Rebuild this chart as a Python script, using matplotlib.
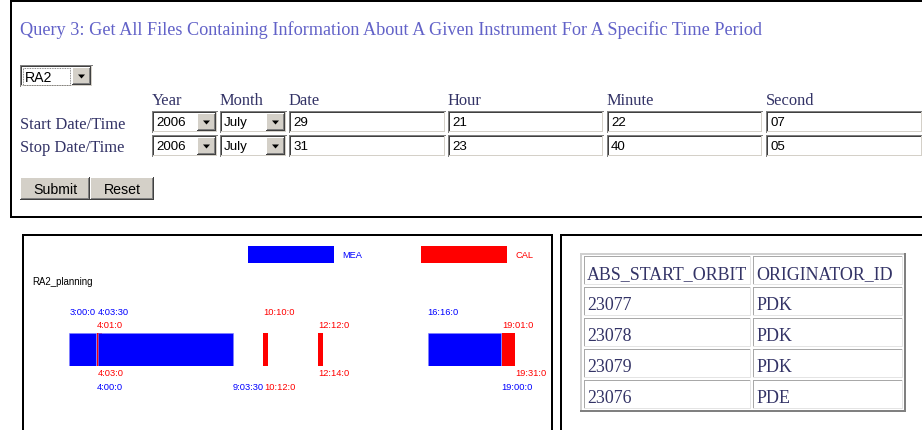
import matplotlib
matplotlib.use("Agg")
import matplotlib.pyplot as plt
from matplotlib.patches import Rectangle, Polygon

# ---------------- data ----------------
title = "Query 3: Get All Files Containing Information About A Given Instrument For A Specific Time Period"
instrument = "RA2"
field_labels = ["Year", "Month", "Date", "Hour", "Minute", "Second"]
row_labels = ["Start Date/Time", "Stop Date/Time"]
start_values = ["2006", "July", "29", "21", "22", "07"]
stop_values = ["2006", "July", "31", "23", "40", "05"]
buttons = ["Submit", "Reset"]

plan_name = "RA2_planning"
series_names = ["MEA", "CAL"]
mea_start = ["3:00:0", "4:03:30", "16:16:0"]
mea_end = ["4:00:0", "9:03:30", "19:00:0"]
cal_start = ["4:01:0", "10:10:0", "12:12:0", "19:01:0"]
cal_end = ["4:03:0", "10:12:0", "12:14:0", "19:31:0"]

table_columns = ["ABS_START_ORBIT", "ORIGINATOR_ID"]
abs_start_orbit = ["23077", "23078", "23079", "23076"]
originator_id = ["PDK", "PDK", "PDK", "PDE"]

# ---------------- style / layout ----------------
W, H, DPI = 922, 430, 100
SERIF = "Liberation Serif"
SANS = "Liberation Sans"
TITLE_C = "#6262c8"
LABEL_C = "#333366"
BLUE, RED = "#0000ff", "#ff0000"
FACE = "#d4d0c8"

fig = plt.figure(figsize=(W / DPI, H / DPI), dpi=DPI)
fig.patch.set_facecolor("white")
ui = fig.add_axes([0, 0, 1, 1])
ui.set_xlim(0, W)
ui.set_ylim(H, 0)
ui.axis("off")
renderer = fig.canvas.get_renderer()


def rect(x, y, w, h, fc, z=1):
    ui.add_patch(Rectangle((x, y), w, h, facecolor=fc, edgecolor="none", lw=0, zorder=z))


def sunken(x0, y0, x1, y1):
    rect(x0, y0, x1 - x0, y1 - y0, "white")
    rect(x0, y0, x1 - x0, 1, "#808080", 2)
    rect(x0, y0, 1, y1 - y0, "#808080", 2)
    rect(x0 + 1, y0 + 1, x1 - x0 - 2, 1, "#404040", 2)
    rect(x0 + 1, y0 + 1, 1, y1 - y0 - 2, "#404040", 2)
    rect(x0 + 1, y1 - 2, x1 - x0 - 2, 1, FACE, 2)
    rect(x1 - 2, y0 + 1, 1, y1 - y0 - 2, FACE, 2)


def raised(x0, y0, x1, y1, z=3):
    rect(x0, y0, x1 - x0, y1 - y0, FACE, z)
    rect(x0, y0, x1 - x0, 1, "#ffffff", z + 0.1)
    rect(x0, y0, 1, y1 - y0, "#ffffff", z + 0.1)
    rect(x0, y1 - 1, x1 - x0, 1, "#404040", z + 0.2)
    rect(x1 - 1, y0, 1, y1 - y0, "#404040", z + 0.2)
    rect(x0 + 1, y1 - 2, x1 - x0 - 2, 1, "#808080", z + 0.2)
    rect(x1 - 2, y0 + 1, 1, y1 - y0 - 2, "#808080", z + 0.2)


def arrow_button(x0, y0, x1, y1):
    raised(x0, y0, x1, y1)
    cx, cy = (x0 + x1) / 2, (y0 + y1) / 2
    ui.add_patch(Polygon([[cx - 3.5, cy - 1.5], [cx + 3.5, cy - 1.5], [cx, cy + 2.5]],
                         closed=True, facecolor="black", edgecolor="none", zorder=5))


def fit(t, target_px):
    bb = t.get_window_extent(renderer)
    t.set_fontsize(t.get_fontsize() * target_px / bb.width)
    return t.get_fontsize()


# ---------------- panel borders ----------------
rect(10, 0, W - 10, 2, "black", 6)
rect(10, 0, 2, 218, "black", 6)
rect(10, 216, W - 10, 2, "black", 6)
rect(22, 234, 531, 2, "black", 6)
rect(22, 234, 2, H - 234, "black", 6)
rect(551, 234, 2, H - 234, "black", 6)
rect(560, 234, W - 560, 2, "black", 6)
rect(560, 234, 2, H - 234, "black", 6)

# ---------------- query form ----------------
t = ui.text(20, 35, title, family=SERIF, fontsize=12, color=TITLE_C, ha="left", va="baseline")
fit(t, 740)

# instrument select
sunken(20, 65, 93, 87)
ui.text(25, 81.5, instrument, family=SANS, fontsize=10.2, color="black", ha="left", va="baseline", zorder=6)
ui.add_patch(Rectangle((22.5, 67.5), 47, 17, fill=False, edgecolor="#606060", lw=0.6,
                       linestyle=(0, (1, 1)), zorder=6))
arrow_button(72, 67, 91, 85)

col_left = [152, 220, 289, 448, 607, 766]
col_right = [218, 287, 446, 604, 763, 923]
lab = ui.text(20, 129, row_labels[0], family=SERIF, fontsize=13, color=LABEL_C, ha="left", va="baseline")
lab_fs = fit(lab, 105)
ui.text(20, 152, row_labels[1], family=SERIF, fontsize=lab_fs, color=LABEL_C, ha="left", va="baseline")
for x, name in zip(col_left, field_labels):
    ui.text(x, 105, name, family=SERIF, fontsize=lab_fs, color=LABEL_C, ha="left", va="baseline")

row_boxes = [(111, 133), (135, 157)]
for (y0, y1), vals in zip(row_boxes, [start_values, stop_values]):
    for i, (x0, x1, v) in enumerate(zip(col_left, col_right, vals)):
        sunken(x0, y0, x1, y1)
        ui.text(x0 + 4, y1 - 7, v, family=SANS, fontsize=9.6, color="black",
                ha="left", va="baseline", zorder=6)
        if i < 2:
            arrow_button(x1 - 21, y0 + 2, x1 - 2, y1 - 2)

btn_x = [(20, 90), (90, 154)]
for (x0, x1), b in zip(btn_x, buttons):
    raised(x0, 177, x1, 200)
    ui.text((x0 + x1) / 2, 193.5, b, family=SANS, fontsize=10.2, color="black",
            ha="center", va="baseline", zorder=6)

# ---------------- timeline chart ----------------
def to_hours(s):
    h, m, sec = (float(p) for p in s.split(":"))
    return h + m / 60 + sec / 3600


ms = [to_hours(s) for s in mea_start]
me = [to_hours(s) for s in mea_end]
cs = [to_hours(s) for s in cal_start]
ce = [to_hours(s) for s in cal_end]

bar_left, bar_right, bar_top, bar_bot = 69.3, 515.4, 333.3, 366.0
ax = fig.add_axes([bar_left / W, 1 - bar_bot / H, (bar_right - bar_left) / W, (bar_bot - bar_top) / H])
xmin, xmax = min(ms + cs), max(me + ce)
ax.set_xlim(xmin, xmax)
ax.set_ylim(0, 1)
ax.axis("off")

px_per_h = ax.bbox.width / (xmax - xmin)
min_w = 5 / px_per_h
ax.broken_barh([(s, max(e - s, min_w)) for s, e in zip(cs, ce)], (0, 1),
               facecolors=RED, edgecolor="none", zorder=2)
ax.broken_barh([(s, e - s) for s, e in zip(ms, me)], (0, 1),
               facecolors=BLUE, edgecolor="#8080ff", linewidth=0.4, zorder=3)

PX = 72 / DPI
row_anchor = {1: (1, 20.6), 2: (1, 7.6), 3: (0, -7.0), 4: (0, -21.0)}
cal_start_rows = [2, 1, 2, 2]
cal_end_rows = [3, 4, 3, 3]
LFS = 6.7


def label(x, txt, row, color):
    yfrac, dy = row_anchor[row]
    ax.annotate(txt, xy=(x, yfrac), xycoords=("data", "axes fraction"),
                xytext=(0, dy * PX), textcoords="offset points",
                ha="left", va="center", family=SANS, fontsize=LFS, color=color,
                annotation_clip=False)


for x, txt in zip(ms, mea_start):
    label(x, txt, 1, BLUE)
for x, txt in zip(me, mea_end):
    label(x, txt, 4, BLUE)
for x, txt, r in zip(cs, cal_start, cal_start_rows):
    label(x, txt, r, RED)
for x, txt, r in zip(ce, cal_end, cal_end_rows):
    label(x, txt, r, RED)

# legend
for (x0, x1, tx), name, c in zip([(248, 334, 342), (421, 507, 515)], series_names, [BLUE, RED]):
    rect(x0, 246, x1 - x0, 17, c, 4)
    ui.text(tx, 255, name, family=SANS, fontsize=LFS, color=c, ha="left", va="center")

ui.text(32, 282, plan_name, family=SANS, fontsize=6.9, color="black", ha="left", va="center")

# ---------------- result table ----------------
tx0, ty0, tx1, ty1 = 580, 253, 906, 412
rect(tx0, ty0, tx1 - tx0, ty1 - ty0, "white", 2)
rect(tx0, ty0, tx1 - tx0, 2, "#d0d0d0", 3)
rect(tx0, ty0, 2, ty1 - ty0, "#d0d0d0", 3)
rect(tx0, ty1 - 2, tx1 - tx0, 2, "#808080", 3)
rect(tx1 - 2, ty0, 2, ty1 - ty0, "#808080", 3)

cell_cols = [(584, 751), (753, 903)]
rows = [table_columns] + [list(r) for r in zip(abs_start_orbit, originator_id)]
tfs = None
for i, row in enumerate(rows):
    y0 = 256 + i * 31
    y1 = y0 + 29
    for (x0, x1), txt in zip(cell_cols, row):
        rect(x0, y0, x1 - x0, 1, "#a8a8a8", 4)
        rect(x0, y0, 1, y1 - y0, "#a8a8a8", 4)
        rect(x0, y1 - 1, x1 - x0, 1, "#e4e4e4", 4)
        rect(x1 - 1, y0, 1, y1 - y0, "#e4e4e4", 4)
        t = ui.text(x0 + 3, y1 - 6, txt, family=SERIF, fontsize=tfs or 12.5,
                    color=LABEL_C, ha="left", va="baseline", zorder=5)
        if tfs is None:
            tfs = fit(t, 161)

fig.savefig("out.png", dpi=DPI, facecolor="white")
